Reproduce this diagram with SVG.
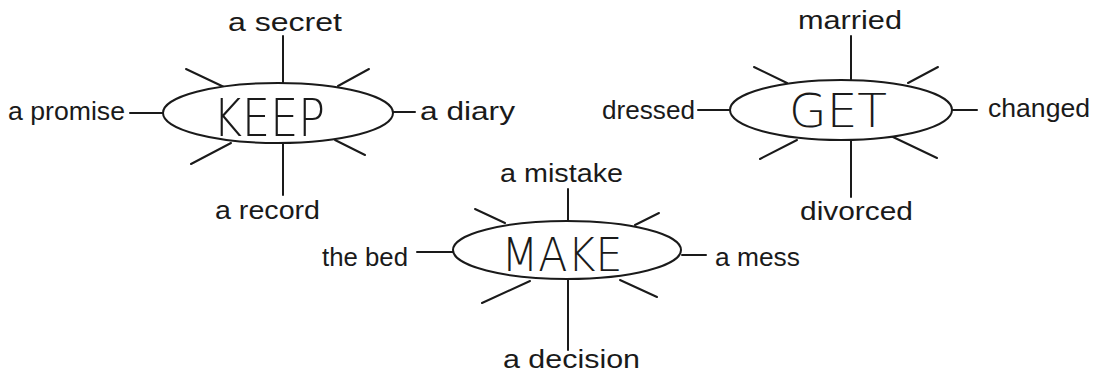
<svg xmlns="http://www.w3.org/2000/svg" width="1117" height="376" viewBox="0 0 1117 376">
<style>
.bg{fill:#ffffff}
.hub{fill:#ffffff;stroke:#1a1a1a;stroke-width:2}
.big{font-family:"DejaVu Sans ExtraLight","DejaVu Sans","Liberation Sans",sans-serif;font-weight:200;fill:#1a1a1a;text-anchor:middle}
.lbl{font-family:"Liberation Sans",Arial,sans-serif;font-size:25px;fill:#1a1a1a}
.c line{stroke:#1a1a1a;stroke-width:2;stroke-linecap:round}
</style>
<rect class="bg" x="0" y="0" width="1117" height="376"/>
<g id="connectors" class="c">
  <line x1="283" y1="36" x2="283" y2="84"/>
  <line x1="283" y1="142" x2="283" y2="195"/>
  <line x1="130" y1="113" x2="163" y2="113"/>
  <line x1="392" y1="112" x2="415" y2="112"/>
  <line x1="186" y1="69" x2="224" y2="87"/>
  <line x1="369" y1="69" x2="338" y2="86"/>
  <line x1="231" y1="143" x2="191" y2="164"/>
  <line x1="335" y1="140" x2="365" y2="155"/>
  <line x1="851" y1="36" x2="851" y2="80"/>
  <line x1="851" y1="139" x2="851" y2="197"/>
  <line x1="698" y1="110" x2="730" y2="110"/>
  <line x1="952" y1="110" x2="977" y2="110"/>
  <line x1="754" y1="67" x2="787" y2="83"/>
  <line x1="938" y1="67" x2="908" y2="83"/>
  <line x1="797" y1="140" x2="760" y2="159"/>
  <line x1="893" y1="137" x2="937" y2="158"/>
  <line x1="568" y1="189" x2="568" y2="220"/>
  <line x1="568" y1="279" x2="568" y2="350"/>
  <line x1="417" y1="252" x2="453" y2="252"/>
  <line x1="682" y1="255" x2="706" y2="255"/>
  <line x1="475" y1="209" x2="505" y2="223"/>
  <line x1="659" y1="213" x2="635" y2="225"/>
  <line x1="530" y1="281" x2="482" y2="303"/>
  <line x1="620" y1="280" x2="657" y2="297"/>
</g>
<g id="keep">
  <ellipse class="hub" cx="278" cy="113" rx="115" ry="30"/>
  <text class="big" x="269" y="136" font-size="52" textLength="112" lengthAdjust="spacingAndGlyphs">KEEP</text>
</g>
<g id="get">
  <ellipse class="hub" cx="841" cy="110" rx="111" ry="30"/>
  <text class="big" x="838" y="127" font-size="46" textLength="98" lengthAdjust="spacingAndGlyphs">GET</text>
</g>
<g id="make">
  <ellipse class="hub" cx="567" cy="250" rx="114" ry="29"/>
  <text class="big" x="562" y="271" font-size="46" textLength="121" lengthAdjust="spacingAndGlyphs">MAKE</text>
</g>
<g id="keep-secret"><text class="lbl" x="228" y="31" textLength="114" lengthAdjust="spacingAndGlyphs">a secret</text></g>
<g id="keep-promise"><text class="lbl" x="8" y="120" textLength="117" lengthAdjust="spacingAndGlyphs">a promise</text></g>
<g id="keep-diary"><text class="lbl" x="420" y="120" textLength="95" lengthAdjust="spacingAndGlyphs">a diary</text></g>
<g id="keep-record"><text class="lbl" x="215" y="219" textLength="105" lengthAdjust="spacingAndGlyphs">a record</text></g>
<g id="get-married"><text class="lbl" x="798" y="29" textLength="104" lengthAdjust="spacingAndGlyphs">married</text></g>
<g id="get-dressed"><text class="lbl" x="602" y="119" textLength="93" lengthAdjust="spacingAndGlyphs">dressed</text></g>
<g id="get-changed"><text class="lbl" x="988" y="117" textLength="102" lengthAdjust="spacingAndGlyphs">changed</text></g>
<g id="get-divorced"><text class="lbl" x="800" y="220" textLength="113" lengthAdjust="spacingAndGlyphs">divorced</text></g>
<g id="make-mistake"><text class="lbl" x="500" y="182" textLength="123" lengthAdjust="spacingAndGlyphs">a mistake</text></g>
<g id="make-bed"><text class="lbl" x="322" y="266" textLength="86" lengthAdjust="spacingAndGlyphs">the bed</text></g>
<g id="make-mess"><text class="lbl" x="715" y="266" textLength="85" lengthAdjust="spacingAndGlyphs">a mess</text></g>
<g id="make-decision"><text class="lbl" x="503" y="368" textLength="137" lengthAdjust="spacingAndGlyphs">a decision</text></g>
</svg>
